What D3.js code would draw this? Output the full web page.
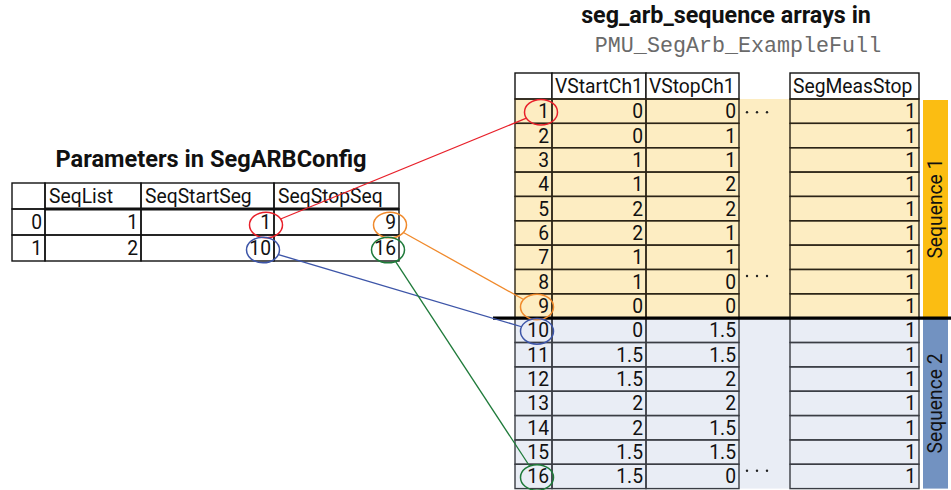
<!DOCTYPE html>
<html><head><meta charset="utf-8">
<script src="https://cdn.jsdelivr.net/npm/d3@7/dist/d3.min.js"></script>
<style>
html,body{margin:0;padding:0;background:#fff;}
svg{display:block;}
text{font-family:Roboto,"Noto Sans",sans-serif;}
</style></head>
<body>
<script>
// ---- data ----
const cfgColumns = ["SeqList", "SeqStartSeg", "SeqStopSeq"];
const cfgIndex = [0, 1];
const seqList = [1, 2];
const seqStartSeg = [1, 10];
const seqStopSeq = [9, 16];

const arrColumns = ["VStartCh1", "VStopCh1", "SegMeasStop"];
const segIndex = [1,2,3,4,5,6,7,8,9,10,11,12,13,14,15,16];
const vStartCh1 = [0,0,1,1,2,2,1,1,0,0,1.5,1.5,2,2,1.5,1.5];
const vStopCh1  = [0,1,1,2,2,1,1,0,0,1.5,1.5,2,2,1.5,1.5,0];
const segMeasStop = [1,1,1,1,1,1,1,1,1,1,1,1,1,1,1,1];
const sequenceNames = ["Sequence 1", "Sequence 2"];
const dotRows = [1, 8, 16];

const W = 951, H = 490;
const svg = d3.select("body").append("svg").attr("width", W).attr("height", H);

const FS = 19.3;
const fmt = v => String(v);

// ---------- left table ----------
const L = svg.append("g");
const lx = [12, 45, 141, 274, 399];           // column edges
const ly = d3.scaleBand().domain(["h", ...cfgIndex]).range([183, 261]);
const lcols = [cfgIndex, seqList, seqStartSeg, seqStopSeq];

L.append("text").attr("x", 211).attr("y", 167).attr("text-anchor", "middle")
  .attr("font-size", 23.6).attr("font-weight", "bold").attr("fill", "#111").text("Parameters in SegARBConfig");

// cells
["h", ...cfgIndex].forEach(r => {
  for (let c = 0; c < 4; c++) {
    L.append("rect").attr("x", lx[c]).attr("y", ly(r)).attr("width", lx[c+1]-lx[c]).attr("height", ly.bandwidth())
      .attr("fill", "none").attr("stroke", "#111").attr("stroke-width", 1.4);
  }
});
// header labels
cfgColumns.forEach((n, i) => {
  L.append("text").attr("x", lx[i+1] + 4).attr("y", ly("h") + ly.bandwidth()/2 + 6.8)
    .attr("font-size", FS).attr("fill", "#111").text(n);
});
// header thick underline
L.append("line").attr("x1", lx[1]).attr("x2", lx[4]).attr("y1", ly(0)).attr("y2", ly(0))
  .attr("stroke", "#111").attr("stroke-width", 3.2);
// values
cfgIndex.forEach((r, ri) => {
  lcols.forEach((col, c) => {
    L.append("text").attr("x", lx[c+1] - 3).attr("y", ly(r) + ly.bandwidth()/2 + 6.8)
      .attr("text-anchor", "end").attr("font-size", FS).attr("fill", "#111").text(fmt(col[ri]));
  });
});

// ---------- right table ----------
const R = svg.append("g");
const rx = { idx0: 515, idx1: 552, vs1: 646, vp1: 739, gap1: 790, ms1: 919, bar0: 923, bar1: 948 };
const ry = d3.scaleBand().domain(segIndex).range([99, 488.6]);
const seqOf = i => (i >= seqStartSeg[1] ? 1 : 0);
const fills = ["#fdedc2", "#e9edf5"];
const barFills = ["#fbbd12", "#7292c1"];

R.append("text").attr("x", 726).attr("y", 23).attr("text-anchor", "middle")
  .attr("font-size", 23.3).attr("font-weight", "bold").attr("fill", "#111").text("seg_arb_sequence arrays in");
R.append("text").attr("x", 738).attr("y", 52).attr("text-anchor", "middle")
  .attr("font-size", 21.7).attr("fill", "#6a6a6a").style("font-family", "'Liberation Mono','DejaVu Sans Mono',monospace")
  .text("PMU_SegArb_ExampleFull");

// backgrounds per sequence
[0, 1].forEach(s => {
  const y0 = ry(seqStartSeg[s]), y1 = ry(seqStopSeq[s]) + ry.bandwidth();
  R.append("rect").attr("x", rx.idx0).attr("y", y0).attr("width", rx.ms1 - rx.idx0).attr("height", y1 - y0)
    .attr("fill", fills[s]);
  R.append("rect").attr("x", rx.bar0).attr("y", y0 + (s === 0 ? 1 : 0)).attr("width", rx.bar1 - rx.bar0).attr("height", y1 - y0)
    .attr("fill", barFills[s]);
  R.append("text")
    .attr("transform", `translate(${(rx.bar0 + rx.bar1)/2 + 6.8},${(y0 + y1)/2}) rotate(-90)`)
    .attr("text-anchor", "middle").attr("font-size", FS).attr("fill", "#111").text(sequenceNames[s]);
});

// header cells
const hy = 73, hh = 99 - 73;
[[rx.idx0, rx.idx1, ""], [rx.idx1, rx.vs1, arrColumns[0]], [rx.vs1, rx.vp1, arrColumns[1]], [rx.gap1, rx.ms1, arrColumns[2]]]
  .forEach(([a, b, t]) => {
    R.append("rect").attr("x", a).attr("y", hy).attr("width", b - a).attr("height", hh)
      .attr("fill", "#fff").attr("stroke", "#111").attr("stroke-width", 1.4);
    R.append("text").attr("x", a + 3).attr("y", hy + hh/2 + 6.8).attr("font-size", FS).attr("fill", "#111").text(t);
  });

// body cells
const rcols = [[rx.idx0, rx.idx1, segIndex], [rx.idx1, rx.vs1, vStartCh1], [rx.vs1, rx.vp1, vStopCh1], [rx.gap1, rx.ms1, segMeasStop]];
segIndex.forEach((seg, i) => {
  const s = seqOf(seg);
  rcols.forEach(([a, b, col]) => {
    R.append("rect").attr("x", a).attr("y", ry(seg)).attr("width", b - a).attr("height", ry.bandwidth())
      .attr("fill", "none").attr("stroke", s === 0 ? "#2b2416" : "#3a3d44").attr("stroke-width", 1.4);
    R.append("text").attr("x", b - 3).attr("y", ry(seg) + ry.bandwidth()/2 + 7)
      .attr("text-anchor", "end").attr("font-size", FS).attr("fill", "#111").text(fmt(col[i]));
  });
});

// ellipsis dots
dotRows.forEach((r, k) => {
  const yy = ry(r) + (k === 0 ? ry.bandwidth()/2 + 1 : 6.5);
  [0, 1, 2].forEach(j => {
    R.append("circle").attr("cx", 747 + j * 10).attr("cy", yy).attr("r", 1.2).attr("fill", "#222");
  });
});

// thick separator
R.append("line").attr("x1", 493).attr("x2", 951)
  .attr("y1", ry(seqStartSeg[1])).attr("y2", ry(seqStartSeg[1]))
  .attr("stroke", "#000").attr("stroke-width", 3.4);

// ---------- connectors ----------
const links = [
  { color: "#e8202a", from: [266, ly(0) + ly.bandwidth()/2 + 3], to: seqStartSeg[0], tx: 541 },
  { color: "#f08a2c", from: [390, ly(0) + ly.bandwidth()/2 + 3], to: seqStopSeq[0], tx: 537 },
  { color: "#3d55a8", from: [263, ly(1) + ly.bandwidth()/2 + 2], to: seqStartSeg[1], tx: 537 },
  { color: "#1f7a3a", from: [388, ly(1) + ly.bandwidth()/2 + 2], to: seqStopSeq[1], tx: 537 }
];
const erx = 16.5, ery = 12.8;
links.forEach(l => {
  const tx = l.tx, ty = ry(l.to) + ry.bandwidth()/2 + 1;
  const [fx, fy] = l.from;
  const ang = Math.atan2(ty - fy, tx - fx);
  const edge = (cx, cy, a) => {
    const c = Math.cos(a), s = Math.sin(a);
    const t = 1 / Math.sqrt((c*c)/(erx*erx) + (s*s)/(ery*ery));
    return [cx + c * t, cy + s * t];
  };
  const p0 = edge(fx, fy, ang), p1 = edge(tx, ty, ang + Math.PI);
  svg.append("line").attr("x1", p0[0]).attr("y1", p0[1]).attr("x2", p1[0]).attr("y2", p1[1])
    .attr("stroke", l.color).attr("stroke-width", 1.3);
  svg.append("ellipse").attr("cx", fx).attr("cy", fy).attr("rx", erx).attr("ry", ery)
    .attr("fill", "none").attr("stroke", l.color).attr("stroke-width", 1.5);
  svg.append("ellipse").attr("cx", tx).attr("cy", ty).attr("rx", erx).attr("ry", ery)
    .attr("fill", "none").attr("stroke", l.color).attr("stroke-width", 1.5);
});
</script>
</body></html>
